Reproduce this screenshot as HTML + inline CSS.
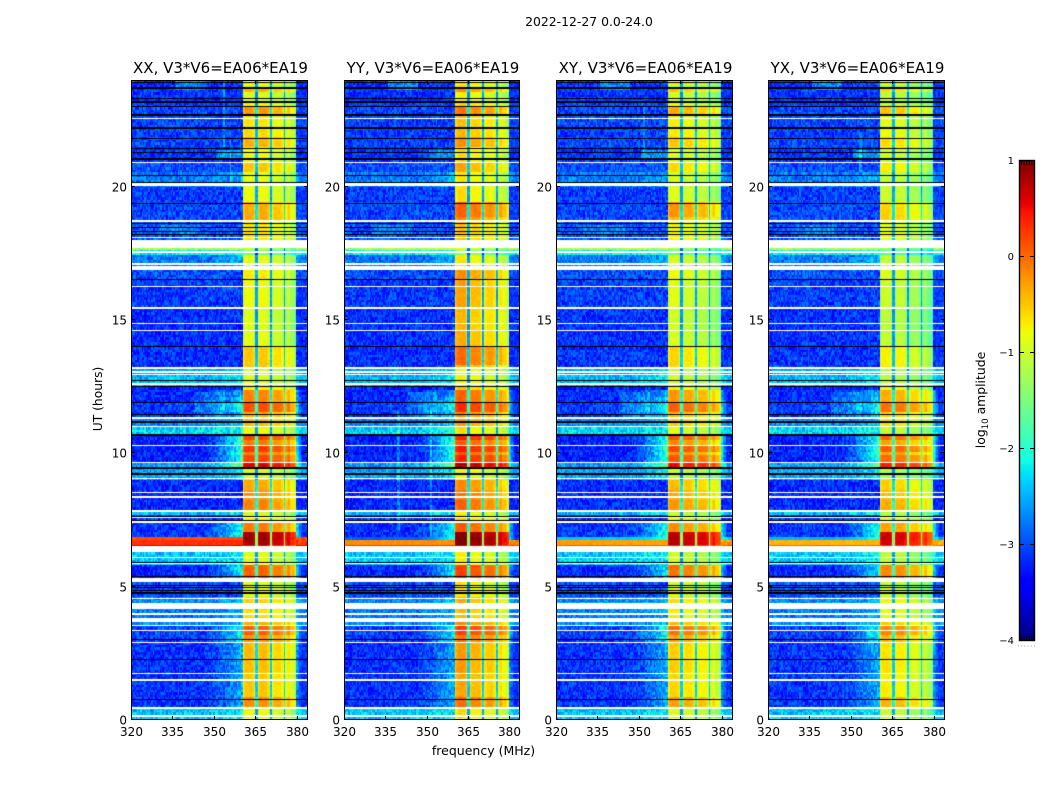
<!DOCTYPE html>
<html>
<head>
<meta charset="utf-8">
<title>2022-12-27 dynamic spectra</title>
<style>
html,body{margin:0;padding:0;background:#fff;}
#figure{position:relative;width:1050px;height:800px;overflow:hidden;background:#fff;font-family:"DejaVu Sans","Liberation Sans",sans-serif;}
canvas{position:absolute;display:block;}
#axes-overlay{position:absolute;left:0;top:0;}
svg text{fill:#000;font-family:"DejaVu Sans","Liberation Sans",sans-serif;}
</style>
</head>
<body>
<div id="figure">
<canvas id="heat-0" width="177" height="640" style="left:131px;top:80px"></canvas>
<canvas id="heat-1" width="176" height="640" style="left:344px;top:80px"></canvas>
<canvas id="heat-2" width="177" height="640" style="left:556px;top:80px"></canvas>
<canvas id="heat-3" width="177" height="640" style="left:768px;top:80px"></canvas>
<canvas id="cbar" width="16" height="480" style="left:1019px;top:160px"></canvas>
<svg id="axes-overlay" width="1050" height="800" xmlns="http://www.w3.org/2000/svg">
<text x="589" y="26" font-size="12.4" text-anchor="middle">2022-12-27 0.0-24.0</text>
<text x="483.5" y="755" font-size="12.5" text-anchor="middle">frequency (MHz)</text>
<text x="0" y="0" font-size="12.3" text-anchor="middle" transform="translate(102,399) rotate(-90)">UT (hours)</text>
<text x="0" y="0" font-size="12.4" text-anchor="middle" transform="translate(985,400) rotate(-90)">log<tspan font-size="8.6" dy="3">10</tspan><tspan dy="-3"> amplitude</tspan></text>
</svg>
</div>
<script>
// Panels
const panelTitles = ['XX, V3*V6=EA06*EA19', 'YY, V3*V6=EA06*EA19', 'XY, V3*V6=EA06*EA19', 'YX, V3*V6=EA06*EA19'];
const panelKeys = ['xx', 'yy', 'xy', 'yx'];
const freqTicks = [320, 335, 350, 365, 380];
const hourTicks = [0, 5, 10, 15, 20];
const colorbarTicks = [1, 0, -1, -2, -3, -4];

// Time bands (log10 amplitude): upper hour of band, plateau level, background, level near the band edge
const bandTopHour = [24.00,23.74,23.55,23.18,22.99,22.69,22.13,21.83,21.49,20.93,20.55,19.99,19.39,18.64,17.70,17.65,17.48,16.84,16.54,15.49,14.64,14.00,13.24,12.94,12.49,12.38,12.11,11.91,11.54,11.33,10.99,10.69,10.46,10.35,10.05,9.90,9.68,9.49,9.04,8.63,8.25,7.84,7.65,7.39,7.01,6.89,6.75,6.71,6.60,6.30,5.81,5.18,4.59,4.16,3.83,3.64,3.53,3.19,2.93,1.76,0.86,0.45];
const bandSignal = [-.8,-.35,-.85,-.7,-.2,-.6,-.55,-.35,-.75,-.45,-.8,-.75,-.3,-.6,-1.0,-1.5,-.8,-.65,-.75,-.85,-.8,-.45,-.9,-.85,-.6,-.1,-.1,.2,-.3,-.4,-.75,.25,-.05,.3,-.05,.25,.65,-.9,-.3,-.2,-.1,-.9,-.7,-.05,.9,.95,.95,.9,.6,-.85,.1,-.8,-.5,-.6,-.5,-.3,.1,-.2,-.4,-.45,-.15,-.75];
const bandBackground = [-2.95,-2.9,-2.95,-2.9,-2.85,-2.85,-2.9,-2.85,-2.95,-2.8,-2.6,-2.9,-2.85,-2.8,-1.0,-2.0,-2.6,-2.8,-2.9,-2.95,-2.95,-2.95,-2.4,-2.3,-3.05,-3.0,-3.0,-2.9,-3.0,-2.5,-2.15,-3.05,-3.05,-3.05,-3.05,-3.05,-2.4,-2.4,-3.0,-3.0,-3.0,-2.3,-2.9,-2.95,-2.95,-.05,-.8,.15,.4,-2.2,-3.0,-2.8,-2.5,-2.6,-2.6,-2.5,-2.85,-2.9,-2.95,-2.95,-2.95,-2.25];
const bandEdge = [-2.9,-2.8,-2.9,-2.8,-2.7,-2.7,-2.8,-2.7,-2.8,-2.6,-2.5,-2.8,-2.8,-2.7,-1.0,-2.0,-2.5,-2.7,-2.8,-2.85,-2.85,-2.85,-2.3,-2.2,-2.8,-2.5,-2.3,-2.0,-2.3,-2.4,-2.1,-1.9,-1.9,-1.9,-1.9,-1.9,-1.6,-2.2,-2.7,-2.7,-2.6,-2.2,-2.7,-2.0,-2.0,-.05,-.8,.15,.4,-2.2,-2.2,-2.6,-2.4,-2.5,-2.5,-2.4,-2.1,-2.2,-2.5,-2.5,-2.5,-2.2];

// The hot 6.5-6.9 h rows differ by polarisation
const hotBandHours = [6.89, 6.75, 6.71, 6.60];
const hotBackgroundXX = [.15, -.7, .3, .6];
const hotBackgroundYY = [-2.9, -1.4, -.2, .3];
const hotBackgroundXY = [-2.4, -1, -.3, .1];
const hotBackgroundYX = [-2.5, -1.1, -.4, .05];

// Flagged rows
const whiteBandTop = [22.59,20.94,20.14,18.75,18.13,18.00,17.59,17.14,17.03,16.29,15.49,14.89,14.64,13.24,13.09,12.98,12.62,11.38,11.03,10.31,9.69,9.08,8.55,8.40,7.88,7.61,7.46,6.51,6.11,5.89,5.33,4.59,4.39,4.02,3.81,3.56,3.39,2.93,1.76,1.52,0.49,0.17];
const whiteBandBottom = [22.54,20.89,20.03,18.66,18.08,17.71,17.51,17.08,16.87,16.24,15.43,14.85,14.59,13.18,13.03,12.94,12.56,11.32,10.99,10.26,9.64,9.04,8.51,8.34,7.82,7.58,7.39,6.28,6.08,5.85,5.18,4.54,4.17,3.93,3.66,3.51,3.34,2.89,1.73,1.46,0.43,0.11];
const blackLineHours = [23.93,23.31,23.01,21.83,21.45,21.31,20.42,20.19,19.39,18.64,18.49,18.35,18.23,16.53,14.04,12.76,12.54,11.91,11.48,7.65,7.50,5.91,5.39,5.06,4.97,4.88,4.81,4.75,3.03,2.28,0.78];
const blackThickHours = [23.70,23.16,22.69,22.20,21.02,11.16,10.70,9.46,9.21];

// Frequency structure of the bright plateau (MHz) and per-polarisation gains
const plateauStart = 360.5;
const plateauEnd = 380;
const edgeRiseStart = 346;
const weakEdgeLimit = -2.55;
const axisMinFreq = 320;
const axisMaxFreq = 384;
const notchStart = [365.1, 370.4, 375.4];
const notchEnd = [365.8, 371.0, 376.0];
const tailStart = 377.6;
const subbandGainXX = [.05, .05, -.1, -.15, -.45];
const subbandGainYY = [.2, .05, -.05, -.15, -.35];
const subbandGainXY = [.05, -.05, -.15, -.25, -.5];
const subbandGainYX = [0, -.05, -.25, -.3, -.6];
const panelSignalOffset = [-.1, -.05, -.18, -.25];
const panelBackgroundOffset = [-.2, -.2, -.18, -.18];

// Polarisation-specific plateau brightening: panel index, hour range, boost
const boostPanel = [1, 1, 2];
const boostHourLow = [13.3, 18.8, 18.8];
const boostHourHigh = [16.9, 19.4, 19.4];
const boostAmount = [.3, .2, .2];

// Intermittent narrow-band spurs: panel index, frequency (MHz), hour range
const spurPanel = [0, 0, 1, 1, 2, 3];
const spurFreq = [353.6, 356.2, 340.0, 351.9, 352.0, 353.5];
const spurHourLow = [21.5, 20.2, 7, 7, 21, 20.5];
const spurHourHigh = [24, 22, 11.6, 11.6, 23, 22];
const spurBoost = .4;

// Diffuse brighter patches in the background: frequency and hour range, boost
const patchFreqLow = [336, 343, 351, 330];
const patchFreqHigh = [347, 354, 361, 345];
const patchHourLow = [23.6, 11.3, 21.0, 18.2];
const patchHourHigh = [24, 12.3, 21.4, 18.6];
const patchBoost = [.45, .3, .45, .25];

// Hand-read texture table of speckle amplitudes
const speckle = [.3,-.6,.1,.8,-.2,-.9,.5,.0,-.4,.7,-.7,.2,.9,-.1,-.5,.4,-.8,.6,.1,-.3,1,-.6,.2,-.9,.5,-.1,.7,-.4,.3,-.7,.8,.0,-.5,.6,-.2,.9,-.8,.1,.4,-.3,-.6,.7,.2,-.9,.5,-.1,.3,-.7,.9,-.4,.1,.6,-.5,-.2,.8,-1,.4,.0,-.3,.7,-.6,.2,.5,-.8,.9,-.1,.3,-.5,.6,-.7,.1,.8,-.2,-.4,.5,-.9,.7,.0,-.6,.3,.9,-.3,-.8,.4,.1,-.5,.7,-.1,.2,-.7,.6,.8,-.4,-.2,.3,-.9,.5,.1,-.6,.4,-.3];

// Jet colormap anchors
const jetRPos = [0, .35, .66, .89, 1];
const jetRVal = [0, 0, 1, 1, .5];
const jetGPos = [0, .125, .375, .64, .91, 1];
const jetGVal = [0, 0, 1, 1, 0, 0];
const jetBPos = [0, .11, .34, .65, 1];
const jetBVal = [.5, 1, 1, 0, 0];
const colorMin = -4;
const colorMax = 1;

const subbandGains = [subbandGainXX, subbandGainYY, subbandGainXY, subbandGainYX];
const hotBackgrounds = [hotBackgroundXX, hotBackgroundYY, hotBackgroundXY, hotBackgroundYX];

const panelLeft = [131, 344, 556, 768];
const panelWidth = [177, 176, 177, 177];
const plotTop = 80, plotBottom = 720;
const svgNS = 'http://www.w3.org/2000/svg';
const overlay = document.getElementById('axes-overlay');

function xScale(p, f) { return panelLeft[p] + (f - axisMinFreq) / (axisMaxFreq - axisMinFreq) * panelWidth[p]; }
function yScale(h) { return plotBottom - h / 24 * (plotBottom - plotTop); }
function lerp(pos, val, t) {
  for (let i = 1; i < pos.length; i++) {
    if (t <= pos[i]) return val[i - 1] + (val[i] - val[i - 1]) * (t - pos[i - 1]) / (pos[i] - pos[i - 1]);
  }
  return val[val.length - 1];
}
function jet(level) {
  const t = Math.max(0, Math.min(1, (level - colorMin) / (colorMax - colorMin)));
  const r = Math.round(255 * lerp(jetRPos, jetRVal, t));
  const g = Math.round(255 * lerp(jetGPos, jetGVal, t));
  const b = Math.round(255 * lerp(jetBPos, jetBVal, t));
  return 'rgb(' + r + ',' + g + ',' + b + ')';
}
function bandIndex(h) {
  let idx = 0;
  for (let i = 0; i < bandTopHour.length; i++) { if (h <= bandTopHour[i]) idx = i; }
  return idx;
}
function signalBoost(p, h) {
  let boost = 0;
  for (let k = 0; k < boostAmount.length; k++) {
    if (boostPanel[k] === p && h >= boostHourLow[k] && h < boostHourHigh[k]) boost += boostAmount[k];
  }
  return boost;
}
function cellLevel(p, i, f, col, row, h) {
  const s = speckle[(col * col * 3 + row * row * 5 + col * row * 7 + p * 17) % speckle.length];
  const hot = hotBandHours.indexOf(bandTopHour[i]);
  const bg = hot >= 0 ? hotBackgrounds[p][hot] : bandBackground[i] + panelBackgroundOffset[p];
  const edge = hot >= 0 ? Math.max(bg, -2) : (bandEdge[i] < weakEdgeLimit ? bg : Math.max(bandEdge[i], bg));
  const sig = bandSignal[i] + panelSignalOffset[p] + signalBoost(p, h);
  if (f >= plateauStart && f < plateauEnd) {
    for (let n = 0; n < notchStart.length; n++) {
      if (f >= notchStart[n] && f < notchEnd[n]) return -2.7 + (bandSignal[i] + .9) * .7 + s * .12;
    }
    let sub = 0, low = plateauStart, high = notchStart[0];
    if (f >= notchEnd[2]) { sub = f >= tailStart ? 4 : 3; low = notchEnd[2]; high = plateauEnd; }
    else if (f >= notchEnd[1]) { sub = 2; low = notchEnd[1]; high = notchStart[2]; }
    else if (f >= notchEnd[0]) { sub = 1; low = notchEnd[0]; high = notchStart[1]; }
    const taper = Math.max(0, 1 - Math.min(f - low, high - f) / 1.0) * .3;
    return sig + subbandGains[p][sub] - taper + s * .07;
  }
  if (f >= plateauEnd) {
    const t = Math.max(0, 1 - (f - plateauEnd) / 2);
    return bg + (edge - bg) * t * .9 + s * .25;
  }
  let level = bg;
  if (f > edgeRiseStart) {
    const t = (f - edgeRiseStart) / (plateauStart - edgeRiseStart);
    level = bg + (edge - bg) * Math.pow(t, 1.5);
  }
  for (let k = 0; k < patchBoost.length; k++) {
    if (f >= patchFreqLow[k] && f < patchFreqHigh[k] && h >= patchHourLow[k] && h < patchHourHigh[k]) level += patchBoost[k];
  }
  for (let k = 0; k < spurFreq.length; k++) {
    if (spurPanel[k] === p && Math.abs(f - spurFreq[k]) < .26 && h >= spurHourLow[k] && h < spurHourHigh[k] && hot < 0) level += spurBoost;
  }
  return level + s * (hot >= 0 ? .08 : .35);
}

// Draw heatmaps
const rowCount = 256;
const colCount = 128;
for (let p = 0; p < 4; p++) {
  const ctx = document.getElementById('heat-' + p).getContext('2d');
  const cw = panelWidth[p] / colCount;
  const rh = (plotBottom - plotTop) / rowCount;
  for (let row = 0; row < rowCount; row++) {
    const h = 24 * (1 - (row + .5) / rowCount);
    const i = bandIndex(h);
    for (let col = 0; col < colCount; col++) {
      const f = axisMinFreq + (col + .5) / colCount * (axisMaxFreq - axisMinFreq);
      ctx.fillStyle = jet(cellLevel(p, i, f, col, row, h));
      ctx.fillRect(Math.floor(col * cw), Math.floor(row * rh), Math.ceil(cw) + 1, Math.ceil(rh) + 1);
    }
  }
  ctx.fillStyle = '#fff';
  for (let k = 0; k < whiteBandTop.length; k++) {
    const y0 = yScale(whiteBandTop[k]) - plotTop;
    const y1 = yScale(whiteBandBottom[k]) - plotTop;
    ctx.fillRect(0, Math.round(y0), panelWidth[p], Math.max(1, Math.round(y1 - y0)));
  }
  ctx.fillStyle = '#000';
  for (const h of blackLineHours) ctx.fillRect(0, Math.round(yScale(h) - plotTop), panelWidth[p], 1);
  for (const h of blackThickHours) ctx.fillRect(0, Math.round(yScale(h) - plotTop) - 1, panelWidth[p], 2);
}

// Draw colorbar
const cbarCtx = document.getElementById('cbar').getContext('2d');
for (let y = 0; y < 480; y++) {
  cbarCtx.fillStyle = jet(colorMax - (y + .5) / 480 * (colorMax - colorMin));
  cbarCtx.fillRect(0, y, 16, 1);
}

function addLine(x1, y1, x2, y2, name, dash) {
  const el = document.createElementNS(svgNS, 'line');
  
  
  el.setAttribute('x1', x1);
  el.setAttribute('y1', y1);
  el.setAttribute('x2', x2);
  el.setAttribute('y2', y2);
  el.setAttribute('stroke', dash || '#000');
  el.setAttribute('stroke-width', '1');
  overlay.appendChild(el);
}
function addText(x, y, str, size, anchor, name) {
  const el = document.createElementNS(svgNS, 'text');
  
  
  el.setAttribute('x', x);
  el.setAttribute('y', y);
  el.setAttribute('font-size', size);
  el.setAttribute('text-anchor', anchor);
  el.textContent = str;
  overlay.appendChild(el);
}
function addFrame(x, y, w, h, name, sw) {
  const el = document.createElementNS(svgNS, 'rect');
  
  
  el.setAttribute('x', x);
  el.setAttribute('y', y);
  el.setAttribute('width', w);
  el.setAttribute('height', h);
  el.setAttribute('fill', 'none');
  el.setAttribute('stroke', '#000');
  el.setAttribute('stroke-width', sw);
  overlay.appendChild(el);
}

for (let p = 0; p < 4; p++) {
  const key = panelKeys[p];
  const L = panelLeft[p], R = L + panelWidth[p];
  addFrame(L + .5, plotTop + .5, panelWidth[p] - 1, plotBottom - plotTop - 1, 'panel-frame-' + key, 1);
  addText(L + panelWidth[p] / 2 + 1, 73, panelTitles[p], 15, 'middle', 'panel-title-' + key);
  for (const f of freqTicks) {
    const x = Math.round(xScale(p, f)) + .5;
    addLine(x, plotBottom, x, plotBottom - 4, 'x-tick-' + key + '-' + f);
    addLine(x, plotTop, x, plotTop + 4, 'x-tick-top-' + key + '-' + f);
    addText(x, 736, String(f), 12, 'middle', 'x-tick-label-' + key + '-' + f);
  }
  for (const h of hourTicks) {
    const y = Math.round(yScale(h)) - .5;
    addLine(L, y, L + 4, y, 'y-tick-' + key + '-' + h);
    addLine(R, y, R - 4, y, 'y-tick-right-' + key + '-' + h);
    addText(L - 4, y + 5, String(h), 12, 'end', 'y-tick-label-' + key + '-' + h);
  }
}

// Colorbar axis
addFrame(1019.5, 160.5, 15, 480, 'colorbar-frame', 1.4);
for (const v of colorbarTicks) {
  const y = Math.round(160 + (colorMax - v) / (colorMax - colorMin) * 480) + .5;
  addLine(1019, y, 1024, y, 'colorbar-tick-left');
  addLine(1030, y, 1035, y, 'colorbar-tick-right');
  addText(1014, y + 3.5, (v < 0 ? '\u2212' + Math.abs(v) : String(v)), 10, 'end', 'colorbar-tick-label');
}
for (let k = 0; k < 6; k++) {
  addLine(1021.5 + k * 2.6, 161, 1021.5 + k * 2.6, 165, 'colorbar-minor-tick-top');
  addLine(1021.5 + k * 2.6, 636, 1021.5 + k * 2.6, 640, 'colorbar-minor-tick-bottom');
  addLine(1018 + k * 3.2, 646, 1019 + k * 3.2, 646, 'colorbar-minor-dot', '#999');
}
</script>
</body>
</html>
